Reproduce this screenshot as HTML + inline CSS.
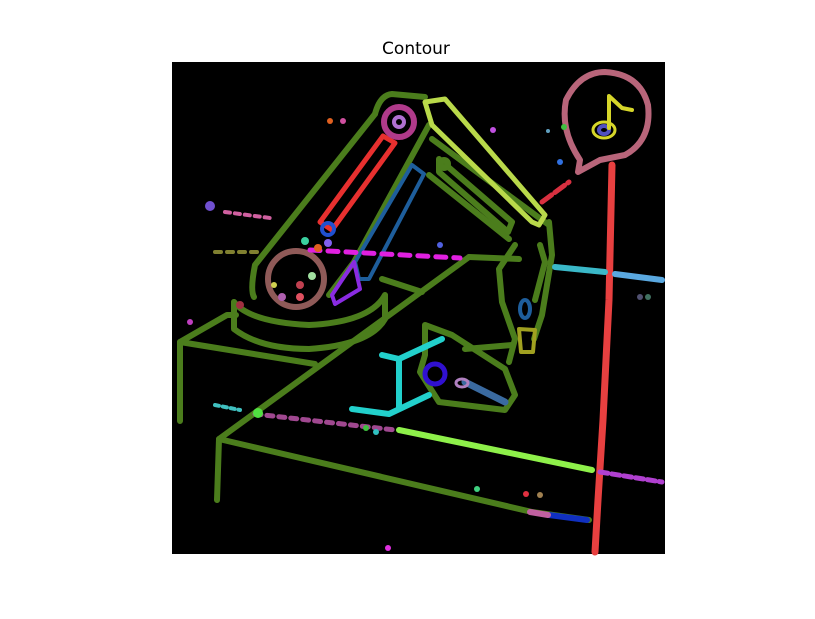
<!DOCTYPE html>
<html><head><meta charset="utf-8"><style>
body{margin:0;background:#fff;width:815px;height:615px;overflow:hidden;font-family:"DejaVu Sans","Liberation Sans",sans-serif}
</style></head><body>
<svg width="815" height="615" viewBox="0 0 815 615" xmlns="http://www.w3.org/2000/svg">
<text x="416" y="54" font-size="17" text-anchor="middle" fill="#000" font-family="DejaVu Sans, sans-serif">Contour</text>
<rect x="172" y="62" width="493" height="492" fill="#000"/>
<g fill="none" stroke-linecap="round" stroke-linejoin="round">
<g stroke="#4b7d1c" stroke-width="6">
<path d="M180,421 L180,342 L227,315 L236,315"/>
<path d="M180,342 L315,364"/>
<path d="M469,257 L219,439 L217,500"/>
<path d="M219,439 L532,512 L589,520"/>
<path d="M469,257 L519,259"/>
<path d="M375,114 L255,265 Q250,290 254,297"/>
<path d="M234,302 Q250,322 309,325 Q370,322 385,295"/>
<path d="M234,302 L234,329 Q260,349 309,349 Q370,345 385,319 L385,296"/>
<path d="M382,279 L422,292"/>
<path d="M375,114 Q380,95 392,94 L425,97"/>
<path d="M429,125 L354,262 L329,295"/>
<path d="M432,139 L549,225"/>
<path d="M429,175 L509,239"/>
<path d="M439,159 L512,222 L508,232 L439,172 Z"/>
<circle cx="444" cy="164" r="4"/>
<path d="M549,222 L552,255 L542,315 L534,339"/>
<path d="M515,245 L499,269 L502,302 L515,339 L509,362"/>
<path d="M425,325 L452,335 L505,369 L515,395 L505,410 L439,402 L420,372 L425,355 Z"/>
<path d="M465,349 L512,345"/>
<path d="M540,245 L545,262 L535,300"/>
</g>
<path d="M425,102 L445,99 L545,215 L539,225 L532,222 L432,125 Z" stroke="#b9d94a" stroke-width="5"/>
<path d="M320,222 L383,136 L395,143 L332,230 Z" stroke="#e8302f" stroke-width="5"/>
<circle cx="328" cy="229" r="6" stroke="#2050d0" stroke-width="4"/>
<circle cx="399" cy="122" r="15" stroke="#b03a8a" stroke-width="6"/>
<circle cx="399" cy="122" r="5" stroke="#b070d0" stroke-width="4"/>
<path d="M412,165 L424,174 L369,279 L359,279 L355,262 Z" stroke="#1e5e9c" stroke-width="4"/>
<path d="M354,262 L360,289 L335,304 L332,295 Z" stroke="#8a2be2" stroke-width="4"/>
<circle cx="296" cy="279" r="28" stroke="#8f5a58" stroke-width="6"/>
<path d="M580,160 Q560,130 566,100 Q580,72 605,72 Q640,74 648,105 Q652,140 625,155 L600,160 L578,172 Z" stroke="#b8657a" stroke-width="6"/>
<ellipse cx="604" cy="130" rx="11" ry="8" stroke="#d6d62a" stroke-width="3"/>
<ellipse cx="604" cy="130" rx="5" ry="4" stroke="#5050c0" stroke-width="4"/>
<path d="M609,128 L609,96 L622,108 L632,110" stroke="#d6d62a" stroke-width="4"/>
<path d="M612,165 L609,300 L603,420 L598,500 L595,552" stroke="#e84040" stroke-width="7"/>
<path d="M542,202 L569,182" stroke="#d83040" stroke-width="5" stroke-dasharray="12 4"/>
<path d="M382,355 L399,359 L442,339 M399,359 L399,409 M352,409 L389,414 L429,395" stroke="#22d0cc" stroke-width="6"/>
<circle cx="435" cy="374" r="10" stroke="#3010d0" stroke-width="5"/>
<path d="M465,382 L505,402" stroke="#3a6aa0" stroke-width="7"/>
<ellipse cx="462" cy="383" rx="6" ry="4" stroke="#b080c0" stroke-width="3"/>
<ellipse cx="525" cy="309" rx="5" ry="9" stroke="#1e5e9c" stroke-width="4"/>
<path d="M519,329 L535,330 L533,352 L521,352 Z" stroke="#a0a020" stroke-width="4"/>
<path d="M555,267 L605,272" stroke="#3ab8c8" stroke-width="6"/>
<path d="M615,274 L662,280" stroke="#5aa8e0" stroke-width="6"/>
<path d="M399,430 L592,470" stroke="#8ef04a" stroke-width="6"/>
<path d="M549,515 L587,520" stroke="#1030c0" stroke-width="6"/>
<path d="M530,512 L548,515" stroke="#c060a0" stroke-width="6"/>
<path d="M600,472 L662,482" stroke="#b040d0" stroke-width="5" stroke-dasharray="8 4"/>
<path d="M255,414 L395,430" stroke="#a04890" stroke-width="5" stroke-dasharray="6 6"/>
<path d="M310,250 L460,258" stroke="#e020e0" stroke-width="5" stroke-dasharray="10 8"/>
<path d="M225,212 L270,218" stroke="#d060a0" stroke-width="4" stroke-dasharray="5 5"/>
<path d="M215,252 L260,252" stroke="#808030" stroke-width="4" stroke-dasharray="6 6"/>
<path d="M215,405 L240,410" stroke="#40c0c0" stroke-width="4" stroke-dasharray="4 4"/>
</g>
<g stroke="none">
<circle cx="210" cy="206" r="5" fill="#7050d0"/>
<circle cx="305" cy="241" r="4" fill="#3ad0a0"/>
<circle cx="328" cy="243" r="4" fill="#8060f0"/>
<circle cx="318" cy="248" r="4" fill="#e06020"/>
<circle cx="258" cy="413" r="5" fill="#50e040"/>
<circle cx="240" cy="305" r="4" fill="#a03040"/>
<circle cx="190" cy="322" r="3" fill="#c040c0"/>
<circle cx="312" cy="276" r="4" fill="#a0e0a0"/>
<circle cx="300" cy="285" r="4" fill="#c04050"/>
<circle cx="300" cy="297" r="4" fill="#e05060"/>
<circle cx="282" cy="297" r="4" fill="#b060b0"/>
<circle cx="274" cy="285" r="3" fill="#d0d050"/>
<circle cx="388" cy="548" r="3" fill="#e030e0"/>
<circle cx="493" cy="130" r="3" fill="#c050e0"/>
<circle cx="548" cy="131" r="2" fill="#60a0c0"/>
<circle cx="564" cy="127" r="3" fill="#40c040"/>
<circle cx="560" cy="162" r="3" fill="#3070e0"/>
<circle cx="440" cy="245" r="3" fill="#5060e0"/>
<circle cx="477" cy="489" r="3" fill="#40d080"/>
<circle cx="526" cy="494" r="3" fill="#e03040"/>
<circle cx="540" cy="495" r="3" fill="#a08050"/>
<circle cx="640" cy="297" r="3" fill="#505070"/>
<circle cx="648" cy="297" r="3" fill="#407060"/>
<circle cx="330" cy="121" r="3" fill="#e06020"/>
<circle cx="343" cy="121" r="3" fill="#d050a0"/>
<circle cx="366" cy="428" r="3" fill="#40c040"/>
<circle cx="376" cy="432" r="3" fill="#30c0c0"/>
</g>
</svg>
</body></html>
